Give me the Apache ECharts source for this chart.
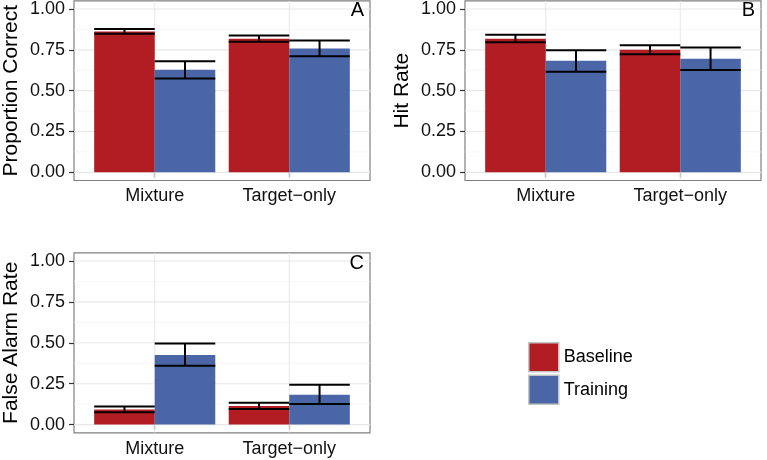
<!DOCTYPE html>
<html>
<head>
<meta charset="utf-8">
<script src="https://cdn.jsdelivr.net/npm/echarts@6/dist/echarts.min.js"></script>
<style>html,body{margin:0;padding:0;background:#fff;}#c{width:767px;height:460px;}</style>
</head>
<body>
<div id="c"></div>
<script>
const categories = ['Mixture', 'Target\u2212only'];
const groups = ['Baseline', 'Training'];
const yTicks = [0, 0.25, 0.5, 0.75, 1];
const yTickLabels = ['0.00', '0.25', '0.50', '0.75', '1.00'];
const yMinorTicks = [0.125, 0.375, 0.625, 0.875];
const panelLetters = ['A', 'B', 'C'];
const panelTitles = ['Proportion Correct', 'Hit Rate', 'False Alarm Rate'];

// Panel A: Proportion Correct
const pcBaseline = [0.863, 0.818];
const pcBaselineLo = [0.848, 0.799];
const pcBaselineHi = [0.878, 0.837];
const pcTraining = [0.628, 0.758];
const pcTrainingLo = [0.575, 0.711];
const pcTrainingHi = [0.680, 0.807];

// Panel B: Hit Rate
const hrBaseline = [0.818, 0.750];
const hrBaselineLo = [0.796, 0.723];
const hrBaselineHi = [0.843, 0.778];
const hrTraining = [0.683, 0.695];
const hrTrainingLo = [0.616, 0.626];
const hrTrainingHi = [0.748, 0.764];

// Panel C: False Alarm Rate
const faBaseline = [0.092, 0.114];
const faBaselineLo = [0.076, 0.096];
const faBaselineHi = [0.110, 0.134];
const faTraining = [0.425, 0.183];
const faTrainingLo = [0.359, 0.126];
const faTrainingHi = [0.495, 0.244];

const panels = [
  { b: [pcBaseline, pcBaselineLo, pcBaselineHi], t: [pcTraining, pcTrainingLo, pcTrainingHi] },
  { b: [hrBaseline, hrBaselineLo, hrBaselineHi], t: [hrTraining, hrTrainingLo, hrTrainingHi] },
  { b: [faBaseline, faBaselineLo, faBaselineHi], t: [faTraining, faTrainingLo, faTrainingHi] }
];

const COLORS = { Baseline: '#B21D24', Training: '#4A66A7' };
const FONT = 'Liberation Sans, Arial, Helvetica, sans-serif';
const DODGE = 0.225;  // half of bar width (0.45 per group)

const grids = [
  { left: 70, top: 0, width: 300, height: 180.5 },
  { left: 465, top: 0, width: 296, height: 180.5 },
  { left: 70, top: 252.8, width: 300, height: 180 }
];

function renderBar(params, api) {
  const xc = api.value(0), v = api.value(1);
  const p0 = api.coord([xc - DODGE, v]);
  const p1 = api.coord([xc + DODGE, 0]);
  return {
    type: 'rect',
    shape: { x: p0[0], y: p0[1], width: p1[0] - p0[0], height: p1[1] - p0[1] },
    style: { fill: api.visual('color') }
  };
}
function renderErr(params, api) {
  const xc = api.value(0), lo = api.value(2), hi = api.value(3);
  const a = api.coord([xc - DODGE, hi]);
  const b = api.coord([xc + DODGE, lo]);
  const m = api.coord([xc, hi])[0];
  const st = { stroke: '#000', lineWidth: 2 };
  return {
    type: 'group',
    children: [
      { type: 'line', shape: { x1: a[0], y1: a[1], x2: b[0], y2: a[1] }, style: st },
      { type: 'line', shape: { x1: a[0], y1: b[1], x2: b[0], y2: b[1] }, style: st },
      { type: 'line', shape: { x1: m, y1: a[1], x2: m, y2: b[1] }, style: st }
    ]
  };
}
function renderGridLine(params, api) {
  const kind = api.value(0), v = api.value(1), minor = api.value(2);
  let p1, p2;
  if (kind === 0) { p1 = api.coord([0.4, v]); p2 = api.coord([2.6, v]); }
  else { p1 = api.coord([v, -0.05]); p2 = api.coord([v, 1.05]); }
  return {
    type: 'line',
    shape: { x1: p1[0], y1: p1[1], x2: p2[0], y2: p2[1] },
    style: { stroke: minor ? '#f4f4f4' : '#e8e8e8', lineWidth: minor ? 0.8 : 1.1 }
  };
}

const xAxes = [], yAxes = [], series = [], graphics = [];
grids.forEach((g, gi) => {
  xAxes.push({
    type: 'value', gridIndex: gi, min: 0.4, max: 2.6,
    axisLine: { show: false },
    splitLine: { show: false },
    axisTick: { show: true, customValues: [1, 2], length: 5, lineStyle: { color: '#333', width: 1.2 } },
    axisLabel: {
      customValues: [1, 2], margin: 7, fontSize: 18, color: '#111', fontFamily: FONT,
      formatter: v => categories[Math.round(v) - 1]
    }
  });
  yAxes.push({
    type: 'value', gridIndex: gi, min: -0.05, max: 1.05,
    name: panelTitles[gi], nameLocation: 'middle', nameGap: 52, nameRotate: 90,
    nameTextStyle: { fontSize: 21, color: '#000', fontFamily: FONT },
    axisLine: { show: false },
    splitLine: { show: false },
    axisTick: { show: true, customValues: yTicks, length: 5, lineStyle: { color: '#333', width: 1.2 } },
    axisLabel: {
      customValues: yTicks, margin: 9, fontSize: 18, color: '#111', fontFamily: FONT,
      formatter: v => yTickLabels[yTicks.indexOf(Math.round(v * 100) / 100)]
    }
  });
  const gl = [];
  yMinorTicks.forEach(v => gl.push([0, v, 1]));
  yTicks.forEach(v => gl.push([0, v, 0]));
  categories.forEach((c, i) => gl.push([1, i + 1, 0]));
  series.push({
    type: 'custom', name: 'grid', xAxisIndex: gi, yAxisIndex: gi, z: 1, silent: true,
    renderItem: renderGridLine, data: gl, encode: { x: 1, y: 1 }, clip: true
  });
  const p = panels[gi];
  groups.forEach((gname, k) => {
    const arr = k === 0 ? p.b : p.t;
    const data = categories.map((c, i) => [i + 1 + (k === 0 ? -DODGE : DODGE), arr[0][i], arr[1][i], arr[2][i]]);
    series.push({
      type: 'custom', name: gname, xAxisIndex: gi, yAxisIndex: gi, z: 2,
      itemStyle: { color: COLORS[gname] },
      renderItem: renderBar, data: data, encode: { x: 0, y: [1, 2, 3] }
    });
    series.push({
      type: 'custom', name: 'err' + gname, xAxisIndex: gi, yAxisIndex: gi, z: 3,
      renderItem: renderErr, data: data, encode: { x: 0, y: [1, 2, 3] }
    });
  });
  graphics.push({
    type: 'text', z: 10,
    x: g.left + g.width - 6, y: g.top + 0.5,
    style: { text: panelLetters[gi], fontSize: 20, fontFamily: FONT, fill: '#000', textAlign: 'right', textVerticalAlign: 'top' }
  });
});

const chart = echarts.init(document.getElementById('c'), null, { renderer: 'canvas' });
chart.setOption({
  animation: false,
  backgroundColor: '#fff',
  grid: grids.map(g => Object.assign({ show: true, borderColor: '#808080', borderWidth: 1.2, backgroundColor: '#fff' }, g)),
  xAxis: xAxes,
  yAxis: yAxes,
  legend: {
    data: groups, orient: 'vertical', left: 528, top: 342, padding: 0,
    itemWidth: 30, itemHeight: 29, itemGap: 2, icon: 'rect',
    itemStyle: { borderColor: '#c4c4c4', borderWidth: 1.5 },
    textStyle: { fontSize: 18, color: '#000', fontFamily: FONT }
  },
  graphic: graphics,
  series: series
});
</script>
</body>
</html>
